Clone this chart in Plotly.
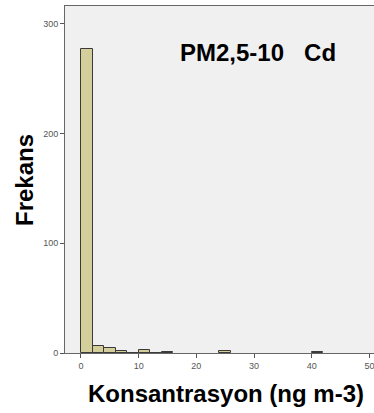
import plotly.graph_objects as go

# Histogram bins (width 2 ng m-3) and frequencies
bin_starts = [0, 2, 4, 6, 8, 10, 12, 14, 24, 40]
counts = [277, 6, 5, 2, 0, 3, 0, 1, 2, 1]
bin_width = 2
x_ticks = [0, 10, 20, 30, 40, 50]
y_ticks = [0, 100, 200, 300]

centers = [s + bin_width / 2 for s in bin_starts]

fig = go.Figure(
    go.Bar(
        x=centers,
        y=counts,
        width=[bin_width] * len(centers),
        marker=dict(color="#D4CF9A", line=dict(color="#3a3a3a", width=1)),
        hoverinfo="x+y",
    )
)

fig.update_layout(
    width=374,
    height=413,
    margin=dict(l=65, r=0, t=6, b=60),
    paper_bgcolor="white",
    plot_bgcolor="#F0F0F0",
    showlegend=False,
    bargap=0,
    font=dict(family="Arial, Liberation Sans, sans-serif"),
    xaxis=dict(
        range=[-2.77, 50.8],
        tickvals=x_ticks,
        ticks="outside",
        ticklen=4,
        tickcolor="#555",
        tickfont=dict(size=9, color="#555"),
        ticklabeloverflow="allow",
        showgrid=False,
        zeroline=False,
        showline=True,
        linecolor="#666",
        linewidth=1,
        mirror=True,
    ),
    yaxis=dict(
        range=[0, 316],
        tickvals=y_ticks,
        ticks="outside",
        ticklen=4,
        tickcolor="#555",
        tickfont=dict(size=9, color="#555"),
        showgrid=False,
        zeroline=False,
        showline=True,
        linecolor="#666",
        linewidth=1,
    ),
    annotations=[
        dict(
            text="<b>PM2,5-10   Cd</b>",
            x=0.623,
            y=0.865,
            xref="paper",
            yref="paper",
            xanchor="center",
            yanchor="middle",
            showarrow=False,
            font=dict(size=24, color="black"),
        ),
        dict(
            text="<b>Konsantrasyon (ng m-3)</b>",
            x=226,
            y=393,
            xref="paper",
            yref="paper",
            showarrow=False,
            font=dict(size=24, color="black"),
        ),
        dict(
            text="<b>Frekans</b>",
            x=24,
            y=180,
            textangle=-90,
            showarrow=False,
            font=dict(size=24, color="black"),
        ),
    ],
)

# Axis titles placed in pixel space relative to the paper
W, H = 374, 413
l, r, t, b = 65, 0, 6, 60
pw, ph = W - l - r, H - t - b
for ann in fig.layout.annotations[1:]:
    ann.update(
        xref="paper",
        yref="paper",
        x=(ann.x - l) / pw,
        y=(H - b - ann.y) / ph,
        xanchor="center",
        yanchor="middle",
    )

fig.write_html("out.html")
